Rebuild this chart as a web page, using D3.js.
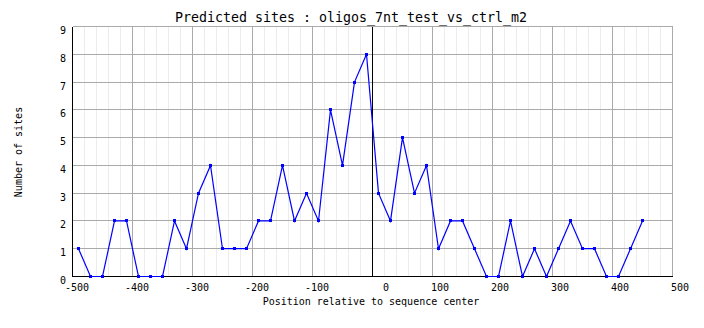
<!DOCTYPE html>
<html>
<head>
<meta charset="utf-8">
<script src="https://cdn.jsdelivr.net/npm/d3@7/dist/d3.min.js"></script>
<style>
  html, body { margin: 0; padding: 0; background: #fff; }
  svg { display: block; }
  text { font-family: "DejaVu Sans Mono", "Liberation Mono", monospace; fill: #000; }
</style>
</head>
<body>
<svg id="chart" width="704" height="328"></svg>
<script>
// ---- data ----
const title = "Predicted sites : oligos_7nt_test_vs_ctrl_m2";
const xTitle = "Position relative to sequence center";
const yTitle = "Number of sites";
const positions = [-490, -470, -450, -430, -410, -390, -370, -350, -330, -310,
                   -290, -270, -250, -230, -210, -190, -170, -150, -130, -110,
                   -90, -70, -50, -30, -10, 10, 30, 50, 70, 90,
                   110, 130, 150, 170, 190, 210, 230, 250, 270, 290,
                   310, 330, 350, 370, 390, 410, 430, 450];
const sites = [1, 0, 0, 2, 2, 0, 0, 0, 2, 1,
               3, 4, 1, 1, 1, 2, 2, 4, 2, 3,
               2, 6, 4, 7, 8, 3, 2, 5, 3, 4,
               1, 2, 2, 1, 0, 0, 2, 0, 1, 0,
               1, 2, 1, 1, 0, 0, 1, 2];
const xTickValues = [-500, -400, -300, -200, -100, 0, 100, 200, 300, 400, 500];
const xMinorValues = [-480, -460, -440, -420, -380, -360, -340, -320, -280, -260, -240, -220,
                      -180, -160, -140, -120, -80, -60, -40, -20, 20, 40, 60, 80,
                      120, 140, 160, 180, 220, 240, 260, 280, 320, 340, 360, 380,
                      420, 440, 460, 480];
const yTickValues = [0, 1, 2, 3, 4, 5, 6, 7, 8, 9];

// ---- layout ----
const svg = d3.select("#chart");
const x = d3.scaleLinear().domain([-500, 500]).range([72, 672]);
const y = d3.scaleLinear().domain([0, 9]).range([276, 26]);
const px = v => Math.round(x(v)) + 0.5;
const py = v => Math.round(y(v)) + 0.5;

const grid = svg.append("g").attr("shape-rendering", "crispEdges");
// minor vertical grid
grid.selectAll("line.minor").data(xMinorValues).join("line")
  .attr("x1", d => px(d)).attr("x2", d => px(d))
  .attr("y1", py(9)).attr("y2", py(0))
  .attr("stroke", "#ececec").attr("stroke-width", 1);
// major vertical grid
grid.selectAll("line.vmaj").data(xTickValues).join("line")
  .attr("x1", d => px(d)).attr("x2", d => px(d))
  .attr("y1", py(9)).attr("y2", py(0))
  .attr("stroke", "#aaaaaa").attr("stroke-width", 1);
// horizontal grid
grid.selectAll("line.hmaj").data(yTickValues).join("line")
  .attr("x1", px(-500)).attr("x2", px(500))
  .attr("y1", d => py(d)).attr("y2", d => py(d))
  .attr("stroke", "#aaaaaa").attr("stroke-width", 1);

// axes (black)
const axes = svg.append("g").attr("shape-rendering", "crispEdges").attr("stroke", "#000");
axes.append("line").attr("x1", px(-500)).attr("x2", px(-500)).attr("y1", py(9)).attr("y2", py(0));
axes.append("line").attr("x1", px(-500)).attr("x2", px(500)).attr("y1", py(0)).attr("y2", py(0));
axes.append("line").attr("x1", px(0)).attr("x2", px(0)).attr("y1", py(9)).attr("y2", py(0));

// data line
const pts = positions.map((p, i) => [p, sites[i]]);
const line = d3.line().x(d => x(d[0]) + 0.5).y(d => y(d[1]) + 0.5);
svg.append("path").datum(pts)
  .attr("d", line)
  .attr("fill", "none").attr("stroke", "#0000ff").attr("stroke-width", 1.2);
svg.append("g").attr("shape-rendering", "crispEdges")
  .selectAll("rect").data(pts).join("rect")
  .attr("x", d => Math.round(x(d[0])) - 1).attr("y", d => Math.round(y(d[1])) - 1)
  .attr("width", 3).attr("height", 3)
  .attr("fill", "#0000ff");

// tick labels
svg.append("g").selectAll("text").data(yTickValues).join("text")
  .attr("x", 66).attr("y", d => Math.round(y(d)) + 8)
  .attr("text-anchor", "end").attr("font-size", 10)
  .text(d => d);
svg.append("g").selectAll("text").data(xTickValues).join("text")
  .attr("x", d => x(d) + 17).attr("y", 291)
  .attr("text-anchor", "end").attr("font-size", 10)
  .text(d => d);

// titles
svg.append("text").attr("x", 351).attr("y", 22)
  .attr("text-anchor", "middle").attr("font-size", 13.3)
  .text(title);
svg.append("text").attr("x", 371).attr("y", 305)
  .attr("text-anchor", "middle").attr("font-size", 10)
  .text(xTitle);
svg.append("text")
  .attr("transform", "translate(22,152) rotate(-90)")
  .attr("text-anchor", "middle").attr("font-size", 10)
  .text(yTitle);
</script>
</body>
</html>
